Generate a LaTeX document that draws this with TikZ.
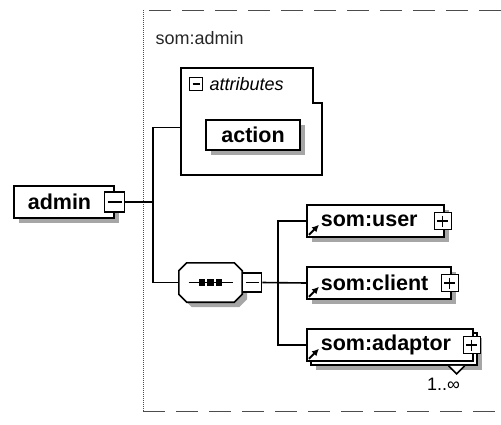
\documentclass[tikz,border=0pt]{standalone}
\usepackage{fontspec}
\setmainfont{Liberation Sans}
\usetikzlibrary{calc,arrows.meta,positioning,shadows}
\tikzset{
  elem/.style={draw=black, line width=1.6pt, fill=white, anchor=west, align=left,
    inner xsep=14pt, inner ysep=0pt, minimum height=32pt,
    font=\bfseries\fontsize{21.5}{21.5}\selectfont},
  plainel/.style={draw=black, line width=1.6pt, fill=white, inner sep=0pt,
    minimum height=30pt, font=\bfseries\fontsize{21.5}{21.5}\selectfont},
  shade/.style={drop shadow={shadow xshift=5pt, shadow yshift=-5pt, fill=black!35, opacity=1}},
  togglebox/.style={draw=black, line width=1.2pt, fill=white, minimum size=17pt, inner sep=0pt},
  minusbox/.style={togglebox, path picture={
      \draw[line width=1.4pt] ([xshift=3pt]path picture bounding box.west) -- ([xshift=-3pt]path picture bounding box.east);}},
  plusbox/.style={togglebox, path picture={
      \draw[line width=1.4pt] ([xshift=3pt]path picture bounding box.west) -- ([xshift=-3pt]path picture bounding box.east)
        ([yshift=-3pt]path picture bounding box.north) -- ([yshift=3pt]path picture bounding box.south);}},
  conn/.style={line width=1.6pt},
  refarr/.style={-{Latex[length=7pt,width=7pt]}, line width=2pt},
  frame/.style={draw=black!70, line width=0.9pt, dash pattern=on 22pt off 11pt},
  lbl/.style={font=\fontsize{18}{18}\selectfont}
}

\begin{document}
\begin{tikzpicture}[x=1pt, y=-1pt]
  \useasboundingbox (0,0) rectangle (501,424);

  % group frame
  \draw[frame] (501,10) -- (143,10);
  \draw[frame] (143,411) -- (501,411);
  \draw[draw=black!70, line width=0.9pt, dash pattern=on 1pt off 1pt] (143,10) -- (143,411);
  \node[lbl, anchor=west, text=black!85] (ttl) at (152,38) {som:admin};

  % root element
  \node[elem, shade, text width=72pt] (adm) at (13,202) {admin};
  \node[minusbox, minimum size=20pt] (admtog) at (adm.east) {};

  % attribute container
  \node[minimum width=141pt, minimum height=107pt, inner sep=0pt] (attr) at (251.5,121.5) {};
  \draw[conn, fill=white] (attr.south west) -- (attr.north west) -- ([xshift=-9pt]attr.north east)
    -- ([xshift=-9pt,yshift=-35pt]attr.north east) -- ([yshift=-35pt]attr.north east)
    -- (attr.south east) -- cycle;
  \node[minusbox, minimum size=13pt] (attrtog) at (196,84) {};
  \node[lbl, font=\itshape\fontsize{18}{18}\selectfont, right=3pt of attrtog] (attrtxt) {attributes};
  \node[plainel, shade, minimum width=94pt] (act) at (253,135) {action};

  % sequence compositor
  \node[minimum width=63pt, minimum height=39pt, inner sep=0pt] (seq) at (210.5,282.5) {};
  \draw[conn, fill=white, shade] ([xshift=8pt]seq.north west) -- ([xshift=-8pt]seq.north east)
    -- ([yshift=-8pt]seq.north east) -- ([yshift=8pt]seq.south east)
    -- ([xshift=-8pt]seq.south east) -- ([xshift=8pt]seq.south west)
    -- ([yshift=8pt]seq.south west) -- ([yshift=-8pt]seq.north west) -- cycle;
  \draw[conn] ([xshift=-22pt]seq.center) -- ([xshift=22pt]seq.center);
  \foreach \dx in {-8.5,0,8.5}
    \fill ([xshift=\dx pt]seq.center) +(-3.2,-3.2) rectangle +(3.2,3.2);
  \node[minusbox, minimum size=19pt, right=0pt of seq] (seqtog) {};

  % child elements
  \node[elem, shade, text width=109pt] (us) at (306,221) {som:user};
  \node[plusbox] (ustog) at ([xshift=-2pt]us.east) {};
  \node[elem, shade, text width=116pt] (cl) at (306,283) {som:client};
  \node[plusbox] (cltog) at ([xshift=-2pt]cl.east) {};
  \node[elem, text width=138pt,
    drop shadow={shadow xshift=9pt, shadow yshift=-9pt, fill=black!35, opacity=1},
    copy shadow={shadow xshift=4pt, shadow yshift=-4pt, draw=black, fill=white, line width=1.6pt}]
    (ad) at (306,345) {som:adaptor};
  \node[plusbox] (adtog) at ([xshift=-2pt]ad.east) {};
  \coordinate (adb) at ([xshift=4pt,yshift=-4pt]ad.south east);
  \draw[conn, fill=white] ([xshift=-29pt]adb) -- ([xshift=-21pt,yshift=-8pt]adb) -- ([xshift=-13pt]adb);
  \node[lbl, anchor=north east] (mult) at ([xshift=-14pt,yshift=-9pt]adb) {1..∞};

  % reference markers
  \foreach \n in {us,cl,ad}
    \draw[refarr] ([xshift=3pt,yshift=3pt]\n.south west) -- ([xshift=13pt,yshift=13pt]\n.south west);

  % connectors
  \coordinate (bus1) at (153,202);
  \coordinate (bus2) at (278,283);
  \draw[conn] (admtog.east) -- (bus1);
  \draw[conn] ([yshift=-6pt]attr.west) -| (bus1) |- (seq.west);
  \draw[conn] (seqtog.east) -- (cl.west);
  \draw[conn] (us.west) -| (bus2) |- (ad.west);
\end{tikzpicture}
\end{document}
